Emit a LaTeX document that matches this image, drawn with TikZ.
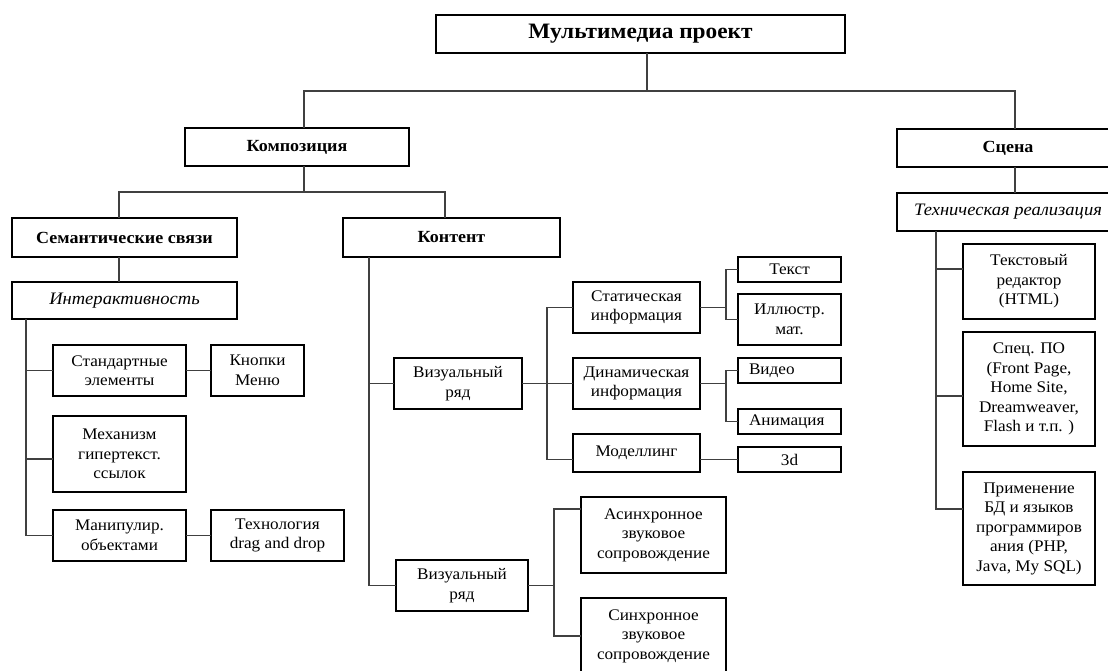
\documentclass[tikz,border=0pt]{standalone}
\usepackage{fontspec}
\setmainfont[FakeStretch=1.06]{Liberation Serif}
\begin{document}
\begin{tikzpicture}[x=1pt,y=-1pt,
  bx/.style={draw=black,line width=1.3pt,fill=white,inner sep=0pt,outer sep=0pt,
    align=center,font=\fontsize{16.2}{19.5}\selectfont},
  hd/.style={bx,font=\fontsize{17}{20}\selectfont\bfseries},
  it/.style={bx,font=\fontsize{17.5}{20}\selectfont\itshape},
  lf/.style={bx,inner xsep=11pt,text width=81pt,align=left},
  ln/.style={draw=black!75,line width=1.3pt}]
\useasboundingbox (0,0) rectangle (1108,670);
% boxes
\node[bx,minimum width=409,minimum height=38,font=\fontsize{22}{26}\selectfont\bfseries] (main) at (640.5,34) {Мультимедиа проект};
\node[hd,minimum width=224,minimum height=38] (komp) at (297,147) {Композиция};
\node[hd,minimum width=222,minimum height=38] (scena) at (1008,148) {Сцена};
\node[it,minimum width=222,minimum height=38] (tech) at (1008,212) {Техническая реализация};
\node[hd,minimum width=225,minimum height=39] (sem) at (124.5,237.5) {Семантические связи};
\node[hd,minimum width=217,minimum height=39] (kont) at (451.5,237.5) {Контент};
\node[it,minimum width=225,minimum height=37] (inter) at (124.5,300.5) {Интерактивность};
\node[bx,minimum width=133,minimum height=51] (std) at (119.5,370.5) {Стандартные\\элементы};
\node[bx,minimum width=93,minimum height=51] (knop) at (257.5,370.5) {Кнопки\\Меню};
\node[bx,minimum width=133,minimum height=76] (mech) at (119.5,454) {Механизм\\гипертекст.\\ссылок};
\node[bx,minimum width=133,minimum height=51] (manip) at (119.5,535.5) {Манипулир.\\объектами};
\node[bx,minimum width=133,minimum height=51] (drag) at (277.5,535.5) {Технология\\drag and drop};
\node[bx,minimum width=128,minimum height=51] (vis1) at (458,383.5) {Визуальный\\ряд};
\node[bx,minimum width=127,minimum height=51] (stat) at (636.5,307.5) {Статическая\\информация};
\node[bx,minimum width=127,minimum height=51] (dyn) at (636.5,383.5) {Динамическая\\информация};
\node[bx,minimum width=127,minimum height=38] (model) at (636.5,453) {Моделлинг};
\node[bx,minimum width=103,minimum height=25] (tekst) at (789.5,269.5) {Текст};
\node[bx,minimum width=103,minimum height=51] (ill) at (789.5,319.5) {Иллюстр.\\мат.};
\node[lf,minimum height=25] (video) at (789.5,370.5) {Видео};
\node[lf,minimum height=25] (anim) at (789.5,421.5) {Анимация};
\node[bx,minimum width=103,minimum height=25] (d3) at (789.5,459.5) {3d};
\node[bx,minimum width=132,minimum height=51] (vis2) at (462,585.5) {Визуальный\\ряд};
\node[bx,minimum width=145,minimum height=76] (async) at (653.5,535) {Асинхронное\\звуковое\\сопровождение};
\node[bx,minimum width=145,minimum height=76] (sync) at (653.5,636) {Синхронное\\звуковое\\сопровождение};
\node[bx,minimum width=132,minimum height=75] (html) at (1029,281.5) {Текстовый\\редактор\\(HTML)};
\node[bx,minimum width=132,minimum height=114] (spec) at (1029,389) {Спец. ПО\\(Front Page,\\Home Site,\\Dreamweaver,\\Flash и т.п. )};
\node[bx,minimum width=132,minimum height=113] (prim) at (1029,528.5) {Применение\\БД и языков\\программиров\\ания (PHP,\\Java, My SQL)};
% connectors
\draw[ln] ([xshift=6.5]main.south) -- ++(0,38) coordinate (j1);
\draw[ln] (j1) -| ([xshift=7]komp.north);
\draw[ln] (j1) -| ([xshift=7]scena.north);
\draw[ln] ([xshift=7]scena.south) -- ([xshift=7]tech.north);
\draw[ln] ([xshift=7]komp.south) -- ++(0,26) coordinate (j2);
\draw[ln] (j2) -| ([xshift=-5.5]sem.north);
\draw[ln] (j2) -| ([xshift=-6.5]kont.north);
\draw[ln] ([xshift=-5.5]sem.south) -- ([xshift=-5.5]inter.north);
\draw[ln] ([xshift=14]inter.south west) |- (std.west);
\draw[ln] ([xshift=14]inter.south west) |- ([yshift=-5]mech.west);
\draw[ln] ([xshift=14]inter.south west) |- (manip.west);
\draw[ln] (std.east) -- (knop.west);
\draw[ln] (manip.east) -- (drag.west);
\draw[ln] ([xshift=26]kont.south west) |- (vis1.west);
\draw[ln] ([xshift=26]kont.south west) |- (vis2.west);
\draw[ln] (vis1.east) -- ++(25,0) coordinate (j3);
\draw[ln] (j3) |- (stat.west);
\draw[ln] (j3) |- (dyn.west);
\draw[ln] (j3) |- (d3.west -| model.west);
\draw[ln] (stat.east) -- ++(26,0) coordinate (j4);
\draw[ln] (j4) |- (tekst.west);
\draw[ln] (j4) |- (ill.west);
\draw[ln] (dyn.east) -- ++(26,0) coordinate (j5);
\draw[ln] (j5) |- (video.west);
\draw[ln] (j5) |- (anim.west);
\draw[ln] (d3.west -| model.east) -- (d3.west);
\draw[ln] (vis2.east) -- ++(26,0) coordinate (j6);
\draw[ln] (j6) |- ([yshift=26]async.west);
\draw[ln] (j6) |- (sync.west);
\draw[ln] ([xshift=39]tech.south west) |- ([yshift=12.5]html.west);
\draw[ln] ([xshift=39]tech.south west) |- ([yshift=-7]spec.west);
\draw[ln] ([xshift=39]tech.south west) |- ([yshift=19.5]prim.west);
\end{tikzpicture}
\end{document}
